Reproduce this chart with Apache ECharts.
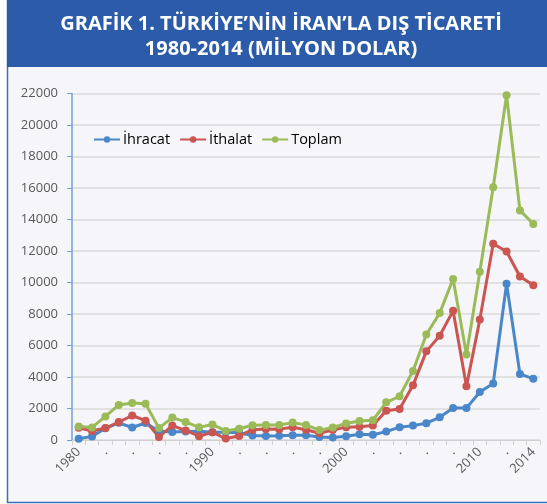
<!DOCTYPE html>
<html>
<head>
<meta charset="utf-8">
<script src="https://cdn.jsdelivr.net/npm/echarts@6/dist/echarts.min.js"></script>
<style>
html,body{margin:0;padding:0;background:#ffffff;}
#c{width:547px;height:504px;}
</style>
</head>
<body>
<div id="c"></div>
<script>
const years = ['1980','1981','1982','1983','1984','1985','1986','1987','1988','1989','1990','1991','1992','1993','1994','1995','1996','1997','1998','1999','2000','2001','2002','2003','2004','2005','2006','2007','2008','2009','2010','2011','2012','2013','2014'];
const ihracat = [85,230,741,1089,795,1079,564,504,546,561,495,487,455,288,258,267,297,307,195,158,236,361,334,534,813,913,1067,1441,2030,2025,3044,3590,9922,4193,3886];
const ithalat = [778,569,759,1137,1556,1224,193,918,604,241,491,91,258,652,699,690,807,646,433,636,816,840,921,1861,1962,3470,5627,6615,8200,3406,7645,12462,11965,10383,9833];
const toplam = [863,799,1500,2226,2351,2303,757,1422,1150,802,986,578,713,940,957,957,1104,953,628,794,1052,1201,1255,2395,2775,4383,6694,8056,10230,5431,10689,16052,21887,14576,13719];
const yTicks = [0,2000,4000,6000,8000,10000,12000,14000,16000,18000,20000,22000];
const shownYears = ['1980','1990','2000','2010','2014'];

const chart = echarts.init(document.getElementById('c'), null, {renderer:'canvas'});
function mk(name, data, color){
  return {
    name: name, type:'line', data: data,
    symbol:'circle', symbolSize:8,
    lineStyle:{color:color, width:3},
    itemStyle:{color:color},
    emphasis:{disabled:true},
    animation:false
  };
}
chart.setOption({
  animation:false,
  backgroundColor:'transparent',
  graphic:[
    {type:'rect', shape:{x:7.5,y:0.5,width:545,height:502}, style:{fill:'#f5f5fa', stroke:'#3d6db6', lineWidth:1.5}, z:-10},
    {type:'rect', shape:{x:7,y:0,width:540,height:67}, style:{fill:'#2c5ca9'}, z:-9}
  ],
  title:{
    text:'GRAFİK 1. TÜRKİYE\u2019NİN İRAN\u2019LA DIŞ TİCARETİ\n1980-2014 (MİLYON DOLAR)',
    left:276, top:7, textAlign:'center',
    textStyle:{color:'#ffffff', fontFamily:'Open Sans', fontWeight:'bold', fontSize:20, lineHeight:25}
  },
  legend:{
    left:93, top:132, padding:0, itemWidth:26, itemHeight:8, itemGap:9,
    textStyle:{color:'#000000', fontFamily:'Open Sans', fontSize:14.5, padding:[0,0,0,-2]},
    data:['İhracat','İthalat','Toplam']
  },
  grid:{left:72, right:7, top:93.5, bottom:64, containLabel:false},
  xAxis:{
    type:'category', data:years, boundaryGap:true,
    axisLine:{show:true, lineStyle:{color:'#d0d0d0', width:1}},
    axisTick:{show:true, alignWithLabel:false, interval:0, length:5, lineStyle:{color:'#d0d0d0'}},
    axisLabel:{interval:1, rotate:45, margin:10, color:'#595959', fontFamily:'Open Sans', fontSize:13,
      formatter:function(v){ return shownYears.indexOf(v)>=0 ? v : '.'; }},
    splitLine:{show:false}
  },
  yAxis:{
    type:'value', min:0, max:22000, interval:2000,
    axisLine:{show:true, lineStyle:{color:'#6fa0d8', width:1.5}},
    axisTick:{show:true, length:5, lineStyle:{color:'#6fa0d8'}},
    axisLabel:{margin:14, color:'#595959', fontFamily:'Open Sans', fontSize:13,
      formatter:function(v){ return String(v); }},
    splitLine:{show:true, lineStyle:{color:'#dadada', width:1.5}}
  },
  series:[
    mk('İhracat', ihracat, '#4a87c9'),
    mk('İthalat', ithalat, '#cb5551'),
    mk('Toplam', toplam, '#9bbb59')
  ]
});
</script>
</body>
</html>
